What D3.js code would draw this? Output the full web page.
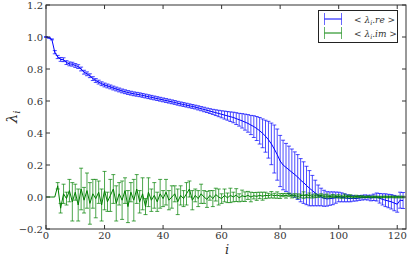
<!DOCTYPE html>
<html>
<head>
<meta charset="utf-8">
<script src="https://cdnjs.cloudflare.com/ajax/libs/d3/7.8.5/d3.min.js"></script>
<style>
  html, body { margin: 0; padding: 0; background: #fff; }
  svg { display: block; }
  text { font-family: "DejaVu Serif", "Liberation Serif", serif; fill: #333; }
</style>
</head>
<body>
<svg id="chart"></svg>
<script>
//// DATA

// eigenvalue index i = 0..122
const reMean = [
  1.000, 0.995, 0.985, 0.905, 0.875, 0.860, 0.858, 0.840, 0.832, 0.830,
  0.822, 0.815, 0.800, 0.780, 0.770, 0.758, 0.740, 0.728, 0.718, 0.708,
  0.700, 0.694, 0.688, 0.681, 0.675, 0.669, 0.663, 0.658, 0.653, 0.649,
  0.645, 0.642, 0.639, 0.635, 0.631, 0.627, 0.623, 0.619, 0.615, 0.611,
  0.607, 0.603, 0.599, 0.595, 0.591, 0.586, 0.582, 0.578, 0.574, 0.570,
  0.566, 0.562, 0.557, 0.552, 0.547, 0.542, 0.537, 0.532, 0.527, 0.522,
  0.517, 0.512, 0.507, 0.502, 0.497, 0.490, 0.483, 0.476, 0.468, 0.460,
  0.450, 0.440, 0.428, 0.414, 0.398, 0.380, 0.358, 0.332, 0.300, 0.265,
  0.225, 0.200, 0.185, 0.170, 0.155, 0.140, 0.125, 0.105, 0.090, 0.072,
  0.055, 0.040, 0.025, 0.010, 0.000, -0.008, -0.012, -0.010, -0.008, -0.004,
  0.000, -0.002, -0.005, -0.008, -0.010, -0.008, -0.010, -0.006, -0.004, -0.002,
  -0.004, -0.006, -0.002, 0.000, -0.008, -0.015, -0.020, -0.025, -0.030, -0.038,
  -0.045, -0.020, -0.022
];
const reErr = [
  0.003, 0.003, 0.003, 0.010, 0.010, 0.012, 0.012, 0.012, 0.012, 0.012,
  0.012, 0.012, 0.012, 0.012, 0.012, 0.012, 0.012, 0.012, 0.012, 0.012,
  0.012, 0.012, 0.012, 0.012, 0.012, 0.012, 0.012, 0.012, 0.012, 0.012,
  0.012, 0.012, 0.012, 0.012, 0.012, 0.012, 0.012, 0.012, 0.012, 0.012,
  0.012, 0.012, 0.012, 0.012, 0.012, 0.012, 0.012, 0.012, 0.012, 0.012,
  0.012, 0.012, 0.013, 0.013, 0.014, 0.014, 0.015, 0.016, 0.018, 0.020,
  0.022, 0.025, 0.027, 0.030, 0.033, 0.037, 0.040, 0.045, 0.050, 0.055,
  0.060, 0.068, 0.075, 0.083, 0.090, 0.100, 0.115, 0.130, 0.150, 0.160,
  0.160, 0.155, 0.150, 0.148, 0.145, 0.142, 0.140, 0.135, 0.130, 0.120,
  0.110, 0.095, 0.080, 0.065, 0.055, 0.050, 0.045, 0.042, 0.040, 0.035,
  0.030, 0.028, 0.025, 0.022, 0.020, 0.018, 0.015, 0.015, 0.015, 0.015,
  0.015, 0.018, 0.020, 0.025, 0.030, 0.035, 0.040, 0.042, 0.045, 0.048,
  0.050, 0.050, 0.050
];
const imMean = [
  0.000, 0.000, 0.000, 0.000, 0.070, -0.070, 0.020, -0.010, 0.040, -0.030,
  0.030, -0.050, 0.050, -0.020, 0.040, -0.040, 0.020, -0.010, 0.030, -0.050,
  0.040, -0.030, 0.010, 0.050, -0.040, 0.020, -0.020, 0.040, -0.060, 0.030,
  -0.020, 0.050, -0.030, 0.020, -0.060, 0.030, -0.020, 0.010, -0.030, 0.020,
  -0.010, 0.030, -0.020, 0.000, 0.020, -0.030, 0.010, -0.010, 0.020, 0.050,
  -0.020, 0.010, -0.010, 0.020, 0.000, -0.015, 0.010, -0.010, 0.015, 0.000,
  -0.010, 0.010, -0.005, 0.010, 0.000, 0.012, -0.005, 0.008, 0.002, 0.010,
  0.000, 0.008, 0.004, 0.010, 0.005, 0.010, 0.008, 0.014, 0.008, 0.012,
  0.006, 0.012, 0.008, 0.014, 0.006, 0.010, 0.004, 0.008, 0.012, 0.006,
  0.010, 0.004, 0.008, 0.006, 0.010, 0.004, 0.006, 0.002, 0.006, 0.003,
  0.004, 0.000, 0.006, 0.002, 0.004, 0.000, 0.003, 0.001, 0.002, 0.000,
  0.002, 0.000, 0.001, 0.000, -0.001, 0.000, 0.001, 0.000, 0.001, 0.000,
  0.000, 0.000, 0.000
];
const imErr = [
  0.000, 0.000, 0.000, 0.000, 0.020, 0.030, 0.060, 0.040, 0.070, 0.120,
  0.050, 0.100, 0.130, 0.080, 0.110, 0.130, 0.090, 0.120, 0.070, 0.100,
  0.120, 0.060, 0.100, 0.090, 0.110, 0.070, 0.120, 0.080, 0.100, 0.060,
  0.130, 0.090, 0.070, 0.100, 0.050, 0.090, 0.070, 0.080, 0.060, 0.090,
  0.050, 0.080, 0.060, 0.070, 0.050, 0.080, 0.060, 0.050, 0.070, 0.050,
  0.060, 0.040, 0.050, 0.060, 0.040, 0.050, 0.030, 0.050, 0.040, 0.050,
  0.030, 0.040, 0.030, 0.045, 0.030, 0.040, 0.025, 0.035, 0.030, 0.025,
  0.030, 0.020, 0.025, 0.020, 0.025, 0.020, 0.015, 0.020, 0.015, 0.020,
  0.015, 0.010, 0.015, 0.010, 0.012, 0.010, 0.015, 0.010, 0.020, 0.010,
  0.015, 0.010, 0.012, 0.008, 0.010, 0.010, 0.012, 0.008, 0.010, 0.008,
  0.010, 0.008, 0.012, 0.008, 0.010, 0.006, 0.008, 0.006, 0.006, 0.005,
  0.005, 0.005, 0.005, 0.005, 0.005, 0.005, 0.005, 0.005, 0.005, 0.005,
  0.005, 0.005, 0.005
];

const xTicks = [0, 20, 40, 60, 80, 100, 120];
const yTicks = [-0.2, 0.0, 0.2, 0.4, 0.6, 0.8, 1.0, 1.2];

const series = [
  { name: "re", mean: reMean, err: reErr, color: "#0000ff" },
  { name: "im", mean: imMean, err: imErr, color: "#008000" },
];

//// SETTINGS
const width = 407;
const height = 257;
const margin = { top: 5, right: 1, bottom: 28, left: 46 };
const serif = "'DejaVu Serif', 'Liberation Serif', serif";

const svg = d3.select("#chart").attr("width", width).attr("height", height);

const x = d3.scaleLinear().domain([0, 123]).range([margin.left, width - margin.right]);
const y = d3.scaleLinear().domain([-0.2, 1.2]).range([height - margin.bottom, margin.top]);

const capHalf = 2;

//// DRAW
drawSeries();
drawAxes();
drawLegend();

function drawSeries() {
  series.forEach(function (s) {
    const g = svg.append("g").attr("class", "series-" + s.name);
    const pts = s.mean.map((v, i) => ({ i: i, v: v, e: s.err[i] }));

    // error bars
    const bars = g.selectAll(".eb").data(pts.filter(d => d.e > 0)).enter().append("g");
    bars.append("line")
      .attr("x1", d => x(d.i)).attr("x2", d => x(d.i))
      .attr("y1", d => y(d.v - d.e)).attr("y2", d => y(d.v + d.e));
    bars.append("line")
      .attr("x1", d => x(d.i) - capHalf).attr("x2", d => x(d.i) + capHalf)
      .attr("y1", d => y(d.v + d.e)).attr("y2", d => y(d.v + d.e));
    bars.append("line")
      .attr("x1", d => x(d.i) - capHalf).attr("x2", d => x(d.i) + capHalf)
      .attr("y1", d => y(d.v - d.e)).attr("y2", d => y(d.v - d.e));
    bars.selectAll("line")
      .style("stroke", s.color)
      .style("stroke-opacity", 0.7)
      .style("stroke-width", "1px");

    g.append("path")
      .datum(pts)
      .attr("d", d3.line().x(d => x(d.i)).y(d => y(d.v)))
      .style("fill", "none")
      .style("stroke", s.color)
      .style("stroke-width", "1px");
  });
}

function drawAxes() {
  const tickLen = 4;
  const axisColor = "#333";
  const x0 = margin.left, x1 = width - margin.right;
  const y0 = height - margin.bottom, y1 = margin.top;

  // frame
  svg.append("rect")
    .attr("x", x0).attr("y", y1)
    .attr("width", x1 - x0).attr("height", y0 - y1)
    .style("fill", "none").style("stroke", axisColor).style("stroke-width", "1px");

  // x ticks (inward, bottom & top)
  xTicks.forEach(function (t) {
    const px = x(t);
    svg.append("line").attr("x1", px).attr("x2", px).attr("y1", y0).attr("y2", y0 - tickLen)
      .style("stroke", axisColor);
    svg.append("line").attr("x1", px).attr("x2", px).attr("y1", y1).attr("y2", y1 + tickLen)
      .style("stroke", axisColor);
    svg.append("text").attr("x", px).attr("y", y0 + 10)
      .attr("text-anchor", "middle").attr("font-family", serif).style("font-size", "10px")
      .text(d3.format("d")(t));
  });

  // y ticks (inward, left & right)
  yTicks.forEach(function (t) {
    const py = y(t);
    svg.append("line").attr("x1", x0).attr("x2", x0 + tickLen).attr("y1", py).attr("y2", py)
      .style("stroke", axisColor);
    svg.append("line").attr("x1", x1).attr("x2", x1 - tickLen).attr("y1", py).attr("y2", py)
      .style("stroke", axisColor);
    svg.append("text").attr("x", x0 - 3).attr("y", py + 3.6)
      .attr("text-anchor", "end").attr("font-family", serif).style("font-size", "10px")
      .text(d3.format(".1f")(t).replace("-", "\u2212"));
  });

  // axis labels
  svg.append("text").attr("x", (x0 + x1) / 2 + 1).attr("y", 253.8)
    .attr("text-anchor", "middle").attr("font-family", serif)
    .style("font-size", "13px").style("font-style", "italic")
    .text("i");

  const yl = svg.append("text")
    .attr("transform", "translate(17," + ((y0 + y1) / 2) + ") rotate(-90)")
    .attr("text-anchor", "middle").attr("font-family", serif)
    .style("font-size", "15px").style("font-style", "italic");
  yl.append("tspan").text("\u03bb");
  yl.append("tspan").attr("dy", 3).style("font-size", "10px").text("i");
}

function drawLegend() {
  const lg = svg.append("g");
  lg.append("rect")
    .attr("x", 318.5).attr("y", 10.5).attr("width", 79).attr("height", 32)
    .style("fill", "#fff").style("stroke", "#222").style("stroke-width", "1px");

  const rows = [
    { s: series[0], y: 19, label: "re" },
    { s: series[1], y: 33, label: "im" },
  ];
  rows.forEach(function (r) {
    const xa = 324.5, xb = 341.5;
    lg.append("line").attr("x1", xa).attr("x2", xb).attr("y1", r.y).attr("y2", r.y)
      .style("stroke", r.s.color);
    [xa, xb].forEach(function (xx) {
      lg.append("line").attr("x1", xx).attr("x2", xx).attr("y1", r.y - 6).attr("y2", r.y + 6)
        .style("stroke", r.s.color).style("stroke-opacity", 0.6);
    });
    const t = lg.append("text").attr("x", 354).attr("y", r.y + 3.5)
      .attr("font-family", serif).style("font-size", "9px");
    t.append("tspan").text("< ");
    t.append("tspan").style("font-style", "italic").text("\u03bb");
    t.append("tspan").attr("dy", 2).style("font-size", "6.5px").style("font-style", "italic").text("i");
    t.append("tspan").attr("dy", -2).style("font-style", "italic").text("." + r.label);
    t.append("tspan").text(" >");
  });
}
</script>
</body>
</html>
